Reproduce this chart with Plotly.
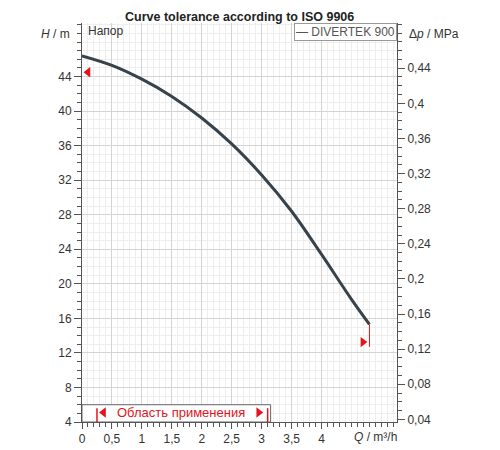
import plotly.graph_objects as go

# Pump curve data
Q = [0.0, 0.5, 1.0, 1.5, 2.0, 2.5, 3.0, 3.5, 4.0, 4.5, 4.8]
H = [46.4, 45.3, 43.7, 41.7, 39.2, 36.2, 32.6, 28.4, 23.4, 18.2, 15.3]

# tolerance markers
tol_left_q, tol_left_h = [0.1], [44.5]
tol_right_q, tol_right_h = [4.69], [13.25]
end_line_q = [4.8, 4.8]
end_line_h = [15.3, 12.7]

# operating range
range_q = [0.25, 3.1]
range_box_q = 3.15
range_box_h = [4, 6]
range_mark_h = [4.0, 5.6]
range_arrow_q = [0.36, 2.95]
range_arrow_h = 5.1

h_ticks = [4, 8, 12, 16, 20, 24, 28, 32, 36, 40, 44]
p_ticks = [0.04, 0.08, 0.12, 0.16, 0.2, 0.24, 0.28, 0.32, 0.36, 0.4, 0.44]
p_labels = ["0,04", "0,08", "0,12", "0,16", "0,2", "0,24", "0,28", "0,32", "0,36", "0,4", "0,44"]
q_ticks = [0, 0.5, 1, 1.5, 2, 2.5, 3, 3.5, 4]
q_labels = ["0", "0,5", "1", "1,5", "2", "2,5", "3", "3,5", "4"]

RED = "#e3141b"
AX = "#555555"
FONT = "Arial, Liberation Sans, sans-serif"

fig = go.Figure()
fig.add_trace(go.Scatter(x=Q, y=H, mode="lines",
                         line=dict(color="#37424b", width=3, shape="spline", smoothing=1.0),
                         showlegend=False, hoverinfo="skip"))
fig.add_trace(go.Scatter(x=end_line_q, y=end_line_h, mode="lines", line=dict(color=RED, width=1),
                         showlegend=False, hoverinfo="skip"))
fig.add_trace(go.Scatter(x=tol_left_q, y=tol_left_h, mode="markers",
                         marker=dict(symbol="triangle-left", color=RED, size=9), showlegend=False))
fig.add_trace(go.Scatter(x=tol_right_q, y=tol_right_h, mode="markers",
                         marker=dict(symbol="triangle-right", color=RED, size=9), showlegend=False))
# range markers
for q in range_q:
    fig.add_trace(go.Scatter(x=[q, q], y=range_mark_h, mode="lines", line=dict(color=RED, width=1.5),
                             showlegend=False, hoverinfo="skip"))
fig.add_trace(go.Scatter(x=[range_arrow_q[0]], y=[range_arrow_h], mode="markers",
                         marker=dict(symbol="triangle-left", color=RED, size=9), showlegend=False))
fig.add_trace(go.Scatter(x=[range_arrow_q[1]], y=[range_arrow_h], mode="markers",
                         marker=dict(symbol="triangle-right", color=RED, size=9), showlegend=False))
# dummy trace for secondary axis
fig.add_trace(go.Scatter(x=[Q[0]], y=[p_ticks[0]], yaxis="y2", mode="markers",
                         marker=dict(opacity=0), showlegend=False, hoverinfo="skip"))

fig.add_shape(type="rect", xref="x", yref="y", x0=0, x1=range_box_q, y0=range_box_h[0], y1=range_box_h[1],
              line=dict(color="#666666", width=1), fillcolor="white", layer="between")

fig.add_annotation(x=(range_arrow_q[0] + range_arrow_q[1]) / 2, y=range_arrow_h, xref="x", yref="y",
                   text="Область применения", showarrow=False, font=dict(color=RED, size=13, family=FONT))

fig.update_layout(
    width=492, height=442,
    margin=dict(l=74, r=103, t=15, b=28, autoexpand=False),
    paper_bgcolor="white", plot_bgcolor="white",
    separators=", ",
    font=dict(family=FONT, size=12, color="#333333"),
    xaxis=dict(range=[0, 5.26], tickvals=q_ticks, ticktext=q_labels, showline=True, linecolor=AX,
               linewidth=1, ticks="outside", ticklen=6, tickcolor=AX, gridcolor="#d4d4d4", zeroline=False,
               automargin=False,
               minor=dict(dtick=0.1, tick0=0, ticks="outside", ticklen=4, tickcolor=AX,
                          showgrid=True, gridcolor="#eeeeee")),
    yaxis=dict(range=[4, 50.2], tickvals=h_ticks, showline=True, linecolor=AX, linewidth=1,
               ticks="outside", ticklen=7, tickcolor=AX, gridcolor="#d4d4d4", zeroline=False,
               automargin=False,
               minor=dict(dtick=1, tick0=0, ticks="outside", ticklen=4, tickcolor=AX,
                          showgrid=True, gridcolor="#eeeeee")),
    yaxis2=dict(range=[0.037, 0.4915], overlaying="y", side="right", tickvals=p_ticks, ticktext=p_labels,
                showline=True, linecolor=AX, linewidth=1, ticks="outside", ticklen=7, tickcolor=AX,
                showgrid=False, zeroline=False, automargin=False,
                minor=dict(dtick=0.01, tick0=0, ticks="outside", ticklen=4, tickcolor=AX, showgrid=False)),
)

fig.add_annotation(x=0.5, y=1, xref="paper", yref="paper", yshift=15, yanchor="top", showarrow=False,
                   text="<b>Curve tolerance according to ISO 9906</b>", font=dict(size=12.5, color="#222222"))
fig.add_annotation(x=0, y=0.972, xref="paper", yref="paper", xanchor="right", yanchor="middle", xshift=-10,
                   showarrow=False, text="<i>H</i> / m", font=dict(size=12))
fig.add_annotation(x=1, y=0.972, xref="paper", yref="paper", xanchor="left", yanchor="middle", xshift=10,
                   showarrow=False, text="Δ<i>p</i> / MPa", font=dict(size=12))
fig.add_annotation(x=1, y=0, xref="paper", yref="paper", xanchor="right", yanchor="top", xshift=2, yshift=-6,
                   showarrow=False, text="<i>Q</i> / m³/h", font=dict(size=12))
fig.add_annotation(x=0, y=1, xref="paper", yref="paper", xanchor="left", yanchor="top", xshift=4, yshift=1,
                   showarrow=False, text="Напор", font=dict(size=12, color="#333333"))
fig.add_annotation(x=1, y=1, xref="paper", yref="paper", xanchor="right", yanchor="top", showarrow=False,
                   text="— DIVERTEK 900", font=dict(size=12, color="#555555"), bgcolor="white",
                   bordercolor="#999999", borderwidth=1, borderpad=1)

fig.write_html("out.html")
